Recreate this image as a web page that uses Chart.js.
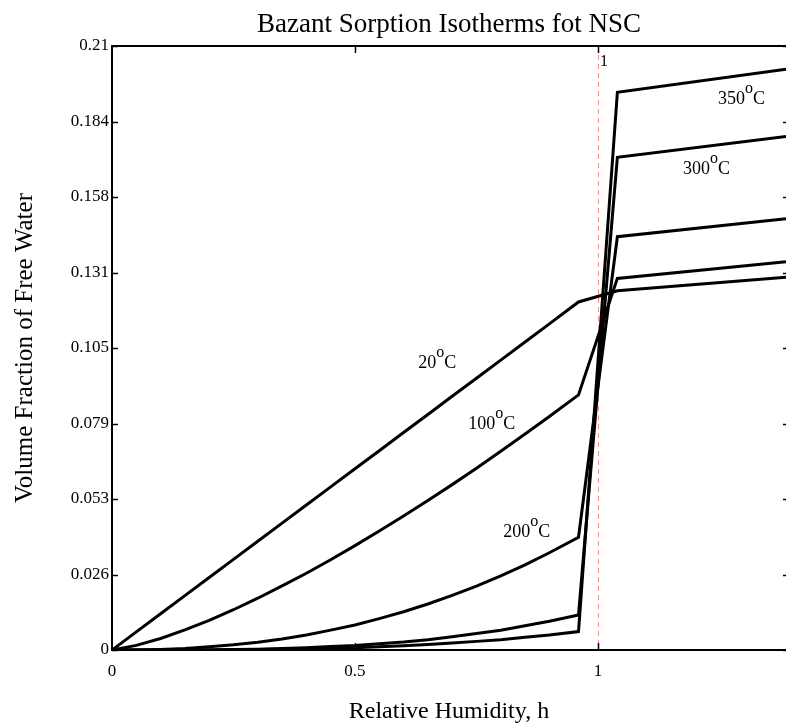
<!DOCTYPE html>
<html>
<head>
<meta charset="utf-8">
<script src="https://cdn.jsdelivr.net/npm/chart.js@4.4.0/dist/chart.umd.min.js"></script>
<style>
  html, body { margin: 0; padding: 0; background: #fff; }
</style>
</head>
<body>
<canvas id="chartContainer" width="786" height="726"></canvas>
<script>
// Relative humidity h (x values shared by every curve)
const humidity = [0, 0.05, 0.1, 0.15, 0.2, 0.25, 0.3, 0.35, 0.4, 0.45, 0.5, 0.55, 0.6, 0.65, 0.7, 0.75, 0.8, 0.85, 0.9, 0.96, 1.04, 1.387];

// Volume fraction of free water, one list per temperature
const water20  = [0, 0.0063, 0.0126, 0.0189, 0.0252, 0.0315, 0.0378, 0.0441, 0.0504, 0.0567, 0.0630, 0.0693, 0.0756, 0.0819, 0.0882, 0.0945, 0.1008, 0.1071, 0.1134, 0.1210, 0.1249, 0.1296];
const water100 = [0, 0.0016, 0.0040, 0.0070, 0.0103, 0.0140, 0.0180, 0.0223, 0.0267, 0.0314, 0.0363, 0.0414, 0.0466, 0.0520, 0.0575, 0.0632, 0.0691, 0.0751, 0.0812, 0.0887, 0.1292, 0.1350];
const water200 = [0, 0.0000, 0.0002, 0.0005, 0.0011, 0.0018, 0.0027, 0.0038, 0.0052, 0.0069, 0.0087, 0.0109, 0.0133, 0.0160, 0.0190, 0.0222, 0.0258, 0.0296, 0.0338, 0.0392, 0.1437, 0.1499];
const water300 = [0, 0.0000, 0.0000, 0.0000, 0.0001, 0.0002, 0.0003, 0.0005, 0.0008, 0.0012, 0.0016, 0.0022, 0.0028, 0.0036, 0.0046, 0.0057, 0.0069, 0.0084, 0.0100, 0.0122, 0.1713, 0.1785];
const water350 = [0, 0.0000, 0.0000, 0.0000, 0.0000, 0.0001, 0.0002, 0.0003, 0.0004, 0.0006, 0.0008, 0.0011, 0.0015, 0.0019, 0.0024, 0.0030, 0.0036, 0.0044, 0.0052, 0.0064, 0.1939, 0.2019];

const temperatures = ['20', '100', '200', '300', '350'];

// Tick values and labels
const xTicks = [0, 0.5, 1];
const xTickLabels = ['0', '0.5', '1'];
const yTicks = [0, 0.02625, 0.0525, 0.07875, 0.105, 0.13125, 0.1575, 0.18375, 0.21];
const yTickLabels = ['0', '0.026', '0.053', '0.079', '0.105', '0.131', '0.158', '0.184', '0.21'];

const serif = '"Liberation Serif", "Times New Roman", serif';

// where each temperature label sits (data coords, left/baseline of text)
const labelSpots = [[0.630, 0.0981], [0.733, 0.0768], [0.805, 0.0393], [1.175, 0.1655], [1.247, 0.1898]];

function toPoints(values) {
    return humidity.map((h, i) => ({ x: h, y: values[i] }));
}

const allSeries = [water20, water100, water200, water300, water350];
const datasets = allSeries.map((vals, i) => ({
    label: temperatures[i] + ' C',
    data: toPoints(vals),
    borderColor: '#000',
    borderWidth: 3,
    pointRadius: 0,
    tension: 0,
    borderJoinStyle: 'miter',
    fill: false
}));

// Frame, inward ticks, the dashed marker at h = 1 and the curve labels
const decorations = {
    id: 'decorations',
    beforeDatasetsDraw(chart) {
        const { ctx, chartArea: a, scales: { x } } = chart;
        const xm = Math.round(x.getPixelForValue(1)) + 0.5;
        ctx.save();
        ctx.strokeStyle = '#ff8f8f';
        ctx.lineWidth = 1;
        ctx.setLineDash([5, 4]);
        ctx.beginPath();
        ctx.moveTo(xm, a.top);
        ctx.lineTo(xm, a.bottom);
        ctx.stroke();
        ctx.restore();
    },
    afterDatasetsDraw(chart) {
        const { ctx, chartArea: a, scales: { x, y } } = chart;
        ctx.save();
        ctx.strokeStyle = '#000';
        ctx.lineWidth = 2;
        ctx.beginPath();
        ctx.moveTo(a.right, a.top);
        ctx.lineTo(a.left, a.top);
        ctx.lineTo(a.left, a.bottom);
        ctx.lineTo(a.right, a.bottom);
        ctx.stroke();

        // inward ticks
        ctx.lineWidth = 1.5;
        ctx.beginPath();
        yTicks.forEach(v => {
            const py = Math.round(y.getPixelForValue(v)) + 0.5;
            ctx.moveTo(a.left, py); ctx.lineTo(a.left + 6, py);
            ctx.moveTo(a.right - 3, py); ctx.lineTo(a.right, py);
        });
        xTicks.slice(1).forEach(v => {
            const px = Math.round(x.getPixelForValue(v)) + 0.5;
            ctx.moveTo(px, a.bottom); ctx.lineTo(px, a.bottom - 7);
            ctx.moveTo(px, a.top); ctx.lineTo(px, a.top + 7);
        });
        ctx.stroke();

        // marker label
        ctx.fillStyle = '#000';
        ctx.textBaseline = 'alphabetic';
        ctx.textAlign = 'left';
        ctx.font = '16px ' + serif;
        ctx.fillText('1', x.getPixelForValue(1) + 2, a.top + 20);

        // temperature labels with a raised "o"
        temperatures.forEach((t, i) => {
            let px = x.getPixelForValue(labelSpots[i][0]);
            const py = y.getPixelForValue(labelSpots[i][1]);
            ctx.font = '18px ' + serif;
            ctx.fillText(t, px, py);
            px += ctx.measureText(t).width;
            ctx.font = '16px ' + serif;
            ctx.fillText('o', px, py - 11);
            px += ctx.measureText('o').width;
            ctx.font = '18px ' + serif;
            ctx.fillText('C', px, py);
        });
        ctx.restore();
    }
};

const ctx = document.getElementById('chartContainer').getContext('2d');
const myChart = new Chart(ctx, {
    type: 'line',
    data: { datasets: datasets },
    options: {
        responsive: false,
        animation: false,
        devicePixelRatio: 1,
        layout: { padding: 0 },
        plugins: {
            legend: { display: false },
            tooltip: { enabled: false },
            title: {
                display: true,
                fullSize: false,
                text: 'Bazant Sorption Isotherms fot NSC',
                color: '#000',
                font: { family: serif, size: 27, weight: 'normal' },
                padding: { top: 9, bottom: 4.6 }
            }
        },
        scales: {
            x: {
                type: 'linear',
                min: 0,
                max: 1.387,
                grid: { display: false, drawTicks: false },
                border: { display: false },
                afterBuildTicks: s => { s.ticks = xTicks.map(v => ({ value: v })); },
                afterFit: s => { s.height = 76; },
                ticks: {
                    autoSkip: false,
                    maxRotation: 0,
                    padding: 11,
                    color: '#000',
                    font: { family: serif, size: 17 },
                    callback: (v, i) => xTickLabels[i]
                },
                title: {
                    display: true,
                    text: 'Relative Humidity, h',
                    color: '#000',
                    font: { family: serif, size: 24 },
                    padding: { top: 0, bottom: 0 }
                }
            },
            y: {
                min: 0,
                max: 0.21,
                grid: { display: false, drawTicks: false },
                border: { display: false },
                afterBuildTicks: s => { s.ticks = yTicks.map(v => ({ value: v })); },
                afterFit: s => { s.width = 112; },
                ticks: {
                    autoSkip: false,
                    padding: 3,
                    color: '#000',
                    font: { family: serif, size: 17 },
                    callback: (v, i) => yTickLabels[i]
                },
                title: {
                    display: true,
                    text: 'Volume Fraction of Free Water',
                    color: '#000',
                    font: { family: serif, size: 25 },
                    padding: { top: 10, bottom: 0 }
                }
            }
        }
    },
    plugins: [decorations]
});
</script>
</body>
</html>
